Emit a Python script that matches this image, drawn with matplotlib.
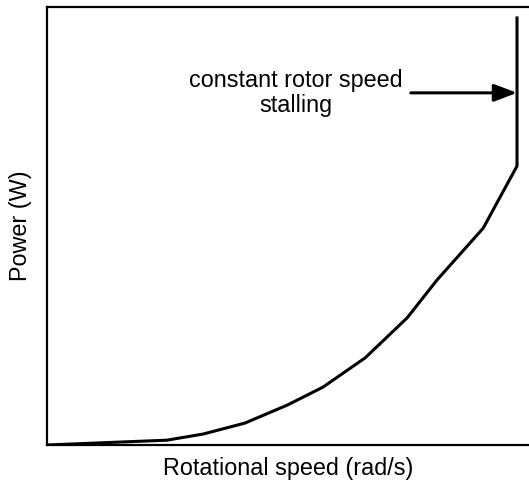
import matplotlib
matplotlib.use("Agg")
import matplotlib.pyplot as plt

plt.rcParams['font.family'] = ['Liberation Sans', 'DejaVu Sans']

speed = [0, 2.55, 3.32, 4.21, 5.11, 5.87, 6.77, 7.66, 8.30, 9.28, 10.0, 10.0]
power = [0, 1.1, 2.5, 5.0, 9.1, 13.2, 19.9, 29.0, 37.7, 49.5, 63.7, 97.5]
stall_speed = 10.0
arrow_level = 80.4
arrow_start = 7.74
label_text = "constant rotor speed\nstalling"
xlabel = "Rotational speed (rad/s)"
ylabel = "Power (W)"

fig = plt.figure(figsize=(5.29, 4.83), dpi=100)
ax = fig.add_axes([47/529, 38/483, 1 - 47/529, 438/483])
ax.plot(speed, power, color='black', lw=2.2, solid_joinstyle='miter')
ax.set_xlim(0, 10.255)
ax.set_ylim(0, 100)
ax.set_xticks([])
ax.set_yticks([])
ax.spines['right'].set_visible(False)
for s in ['left', 'bottom', 'top']:
    ax.spines[s].set_linewidth(1.6)
ax.set_xlabel(xlabel, fontsize=16.8, labelpad=8.5)
ax.set_ylabel(ylabel, fontsize=16.8, labelpad=10.5)
ax.annotate('', xy=(stall_speed, arrow_level), xytext=(arrow_start, arrow_level),
            arrowprops=dict(arrowstyle='-|>,head_length=1.0,head_width=0.38',
                            mutation_scale=14, lw=2.2, color='black',
                            shrinkA=0, shrinkB=0))
ax.text(5.3, 80.4, label_text, ha='center', va='center', multialignment='center',
        fontsize=16.8, linespacing=1.12)
fig.savefig("out.png", dpi=100)
